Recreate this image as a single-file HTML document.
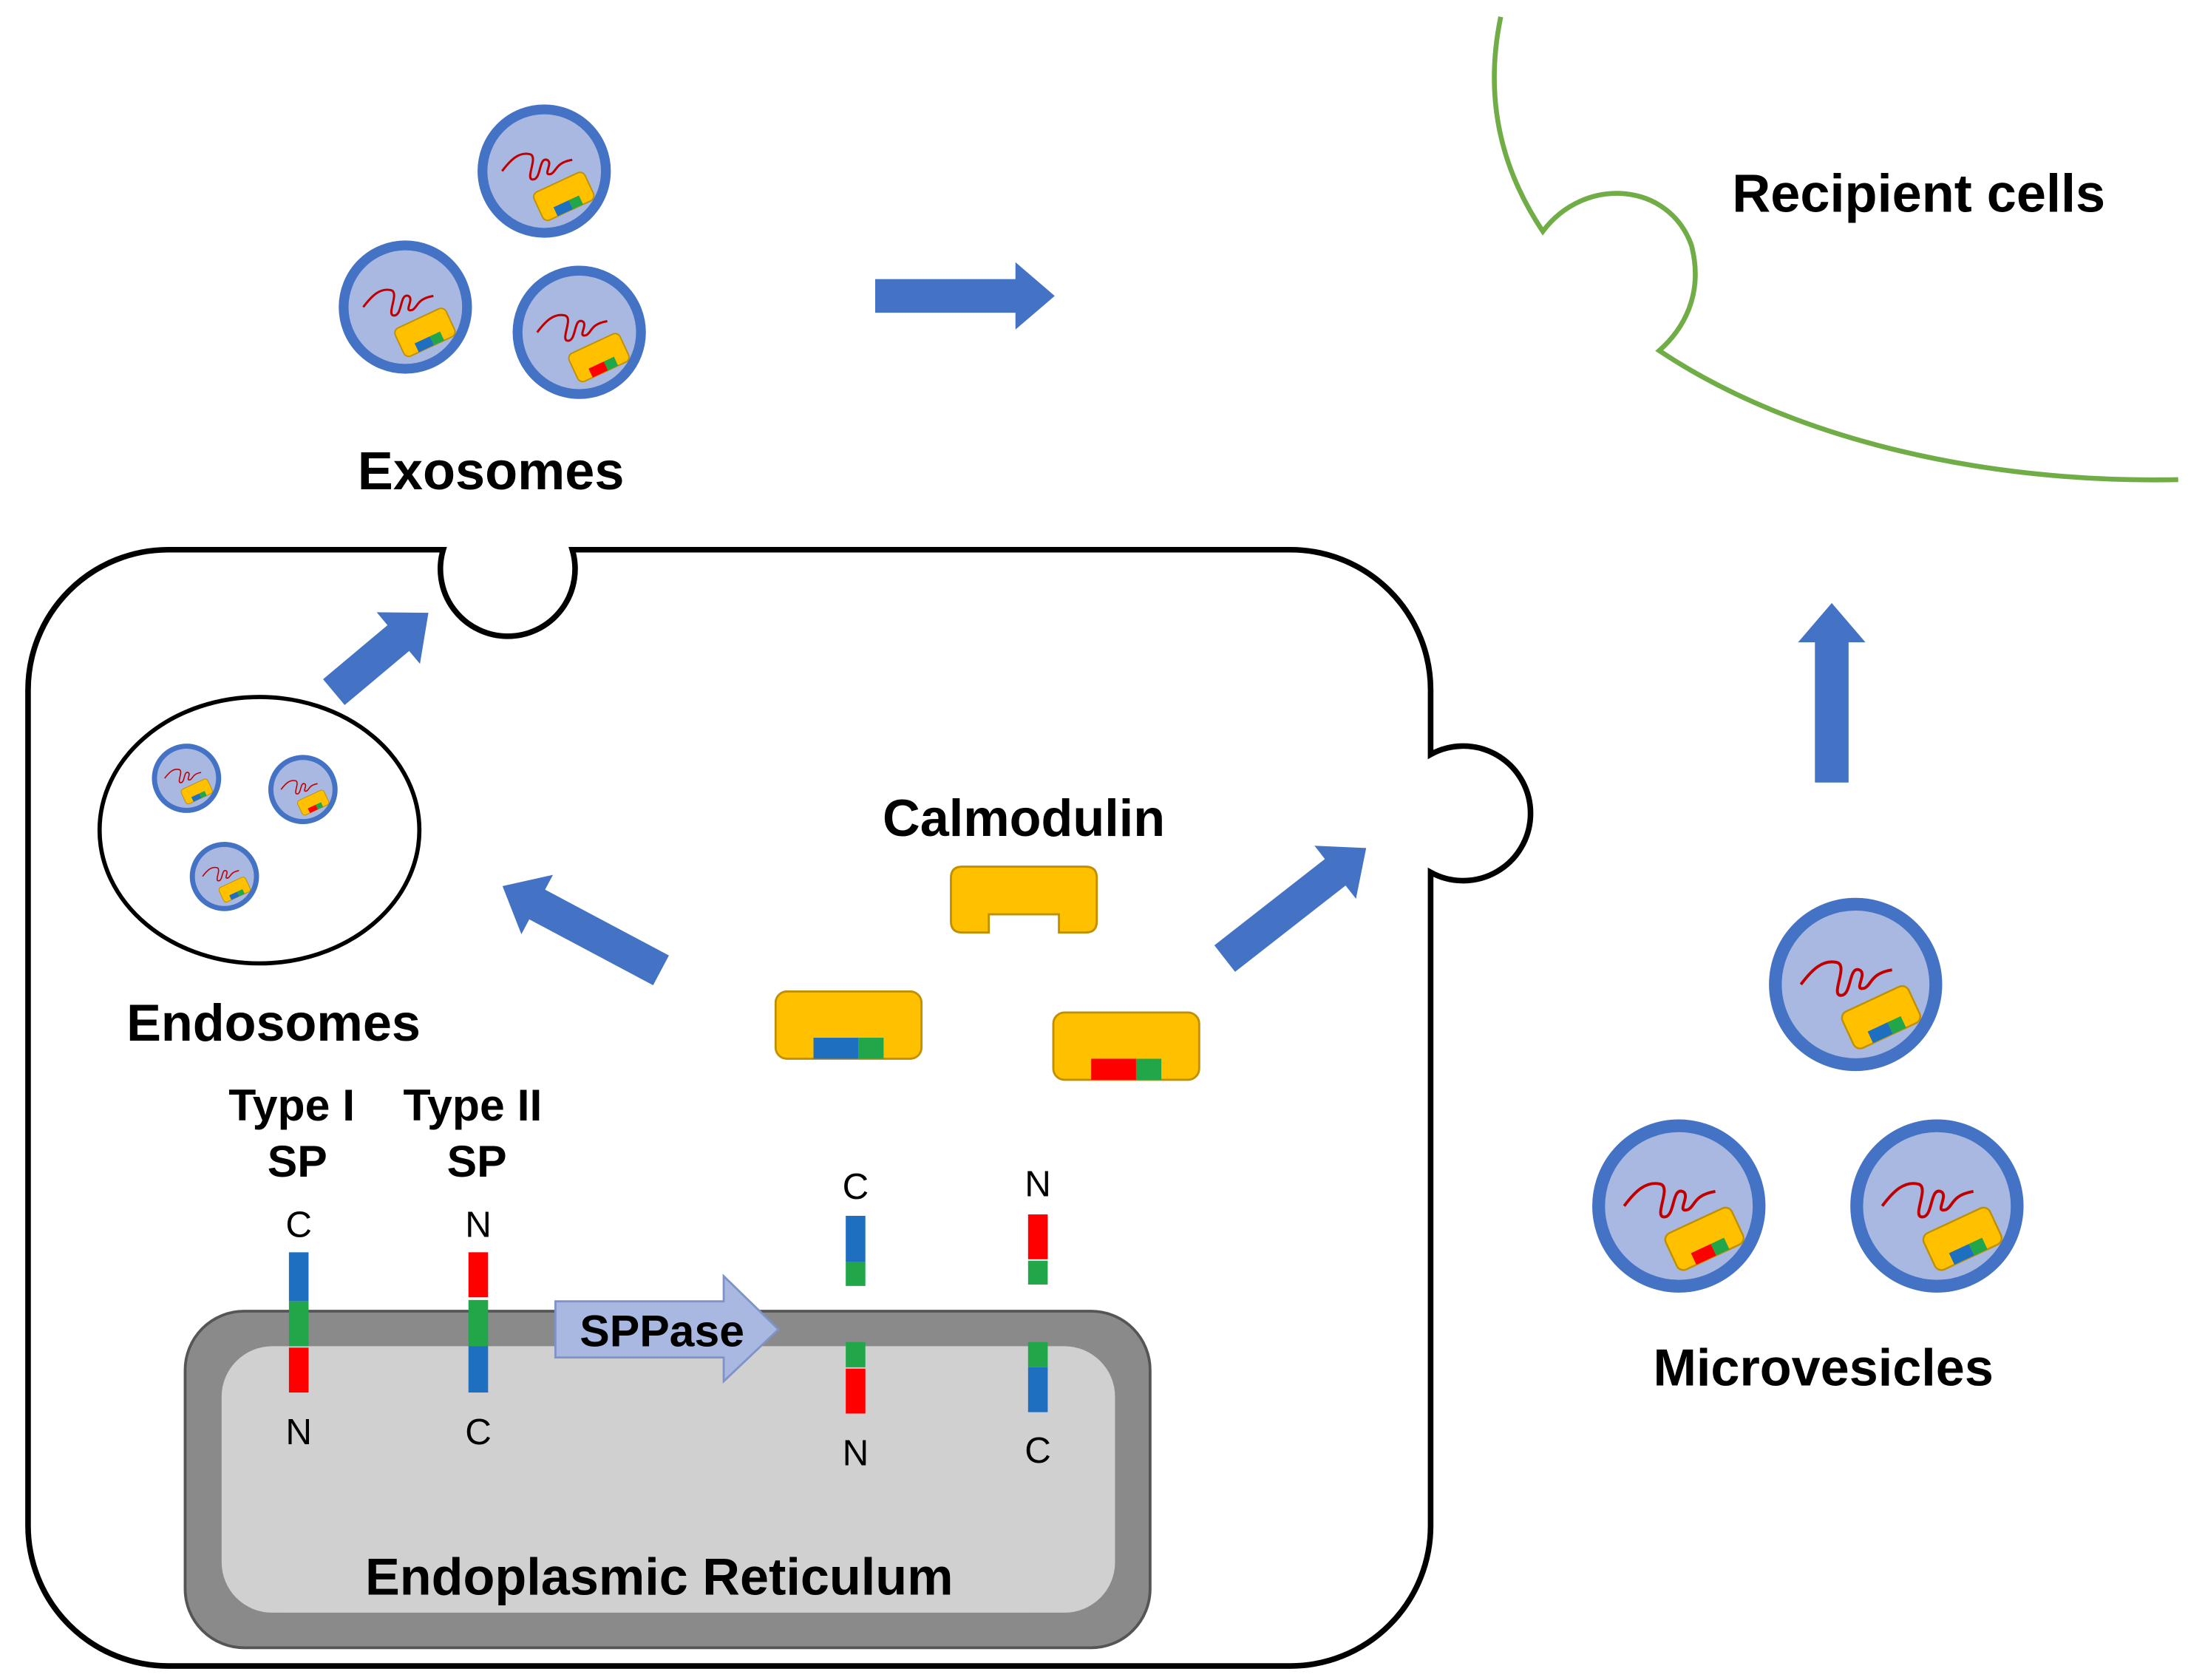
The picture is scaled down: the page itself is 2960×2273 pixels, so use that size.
<!DOCTYPE html>
<html><head><meta charset="utf-8"><style>html,body{margin:0;padding:0;background:#fff}svg{display:block}text{font-family:"Liberation Sans",Arial,sans-serif}</style></head>
<body>
<svg width="2960" height="2273" viewBox="0 0 1560 1198" preserveAspectRatio="none" xmlns="http://www.w3.org/2000/svg">
<defs>
<g id="vb">
<circle r="44" fill="#a9b8e0" stroke="#4472c4" stroke-width="7"/>
<path d="M-30,0 C-24,-8 -18,-14 -10,-12 C-4,-10 -14,6 -8,6 C-2,6 -4,-10 2,-8 C7,-6 -2,4 5,2 C9,0 8,-6 20,-8" fill="none" stroke="#c00000" stroke-width="1.6"/>
<g transform="translate(14,18) rotate(-25)"><rect x="-20" y="-11" width="40" height="22" rx="4" fill="#ffc000" stroke="#c09000" stroke-width="1"/><rect x="-10" y="4" width="12" height="7" fill="#1f6fc0"/><rect x="2" y="4" width="8" height="7" fill="#22a64a"/></g>
</g>
<g id="vr">
<circle r="44" fill="#a9b8e0" stroke="#4472c4" stroke-width="7"/>
<path d="M-30,0 C-24,-8 -18,-14 -10,-12 C-4,-10 -14,6 -8,6 C-2,6 -4,-10 2,-8 C7,-6 -2,4 5,2 C9,0 8,-6 20,-8" fill="none" stroke="#c00000" stroke-width="1.6"/>
<g transform="translate(14,18) rotate(-25)"><rect x="-20" y="-11" width="40" height="22" rx="4" fill="#ffc000" stroke="#c09000" stroke-width="1"/><rect x="-10" y="4" width="12" height="7" fill="#ff0000"/><rect x="2" y="4" width="8" height="7" fill="#22a64a"/></g>
</g>
<polygon id="arr" points="0,-12 -100,-12 -100,12 0,12 0,24 28,0 0,-24" fill="#4472c4"/>
<polygon id="arrs" points="0,-12 -60,-12 -60,12 0,12 0,24 28,0 0,-24" fill="#4472c4"/>
</defs>

<!-- recipient cell -->
<path d="M1070,12 C1058,70 1070,120 1100,165 C1130,125 1190,130 1206,175 C1215,210 1200,235 1183,250 C1280,315 1420,345 1553,342" fill="none" stroke="#70ad47" stroke-width="3.5"/>
<text x="1368" y="151" font-size="38" font-weight="bold" text-anchor="middle">Recipient cells</text>

<!-- exosomes -->
<use href="#vb" transform="translate(388,122)"/>
<use href="#vb" transform="translate(289,219)"/>
<use href="#vr" transform="translate(413,237)"/>
<text x="350" y="349" font-size="38" font-weight="bold" text-anchor="middle">Exosomes</text>
<use href="#arr" transform="translate(724,211)"/>

<!-- main cell -->
<path d="M120,392 L316,392 A48,48 0 1 0 408,392 L920,392 A100,100 0 0 1 1020,492 L1020,538 A48,48 0 1 1 1020,622 L1020,1088 A100,100 0 0 1 920,1188 L120,1188 A100,100 0 0 1 20,1088 L20,492 A100,100 0 0 1 120,392 Z" fill="#fff" stroke="#000" stroke-width="4"/>

<!-- ER -->
<rect x="132" y="935" width="688" height="240" rx="42" fill="#8a8a8a" stroke="#555" stroke-width="2"/>
<rect x="158" y="960" width="637" height="190" rx="36" fill="#d0d0d0"/>
<text x="470" y="1137" font-size="37" font-weight="bold" text-anchor="middle">Endoplasmic Reticulum</text>

<!-- endosome -->
<ellipse cx="185" cy="592" rx="114" ry="95" fill="#fff" stroke="#000" stroke-width="3"/>
<use href="#vb" transform="translate(133,555) scale(0.52)"/>
<use href="#vr" transform="translate(216,563) scale(0.52)"/>
<use href="#vb" transform="translate(160,625) scale(0.52)"/>
<text x="195" y="742" font-size="37" font-weight="bold" text-anchor="middle">Endosomes</text>

<!-- arrows in cell -->
<use href="#arrs" transform="translate(284,455) rotate(-40)"/>
<use href="#arr" transform="translate(383,645) rotate(-152)"/>
<use href="#arr" transform="translate(952,622) rotate(-38)"/>
<use href="#arr" transform="translate(1306,458) rotate(-90)"/>

<!-- calmodulin -->
<text x="730" y="596" font-size="37" font-weight="bold" text-anchor="middle">Calmodulin</text>
<path d="M686,618 L774,618 Q782,618 782,626 L782,657 Q782,665 774,665 L755,665 L755,652 L705,652 L705,665 L686,665 Q678,665 678,657 L678,626 Q678,618 686,618 Z" fill="#ffc000" stroke="#c09000" stroke-width="1.5"/>
<rect x="553" y="707" width="104" height="48" rx="8" fill="#ffc000" stroke="#c09000" stroke-width="1.5"/>
<rect x="580" y="740" width="32" height="15" fill="#1f6fc0"/><rect x="612" y="740" width="18" height="15" fill="#22a64a"/>
<rect x="751" y="722" width="104" height="48" rx="8" fill="#ffc000" stroke="#c09000" stroke-width="1.5"/>
<rect x="778" y="755" width="32" height="15" fill="#ff0000"/><rect x="810" y="755" width="18" height="15" fill="#22a64a"/>

<!-- SP labels -->
<g font-size="32" font-weight="bold" text-anchor="middle">
<text x="208" y="799">Type I</text><text x="212" y="839">SP</text>
<text x="337" y="799">Type II</text><text x="340" y="839">SP</text>
</g>
<g font-size="26" text-anchor="middle">
<text x="213" y="882">C</text><text x="213" y="1030">N</text>
<text x="341" y="882">N</text><text x="341" y="1030">C</text>
<text x="610" y="855">C</text><text x="610" y="1045">N</text>
<text x="740" y="853">N</text><text x="740" y="1043">C</text>
</g>
<rect x="206" y="893" width="14" height="35" fill="#1f6fc0"/><rect x="206" y="928" width="14" height="32" fill="#22a64a"/><rect x="206" y="961" width="14" height="32" fill="#ff0000"/>
<rect x="334" y="893" width="14" height="32" fill="#ff0000"/><rect x="334" y="927" width="14" height="33" fill="#22a64a"/><rect x="334" y="960" width="14" height="33" fill="#1f6fc0"/>
<rect x="603" y="867" width="14" height="33" fill="#1f6fc0"/><rect x="603" y="900" width="14" height="17" fill="#22a64a"/>
<rect x="603" y="957" width="14" height="18" fill="#22a64a"/><rect x="603" y="976" width="14" height="32" fill="#ff0000"/>
<rect x="733" y="866" width="14" height="32" fill="#ff0000"/><rect x="733" y="899" width="14" height="17" fill="#22a64a"/>
<rect x="733" y="957" width="14" height="18" fill="#22a64a"/><rect x="733" y="975" width="14" height="32" fill="#1f6fc0"/>

<!-- SPPase -->
<polygon points="396,928 516,928 516,910 555,948 516,985 516,968 396,968" fill="#a9b8e0" stroke="#7f93c8" stroke-width="1.5"/>
<text x="472" y="960" font-size="32" font-weight="bold" text-anchor="middle">SPPase</text>

<!-- microvesicles -->
<use href="#vb" transform="translate(1323,702) scale(1.3)"/>
<use href="#vr" transform="translate(1197,860) scale(1.3)"/>
<use href="#vb" transform="translate(1381,860) scale(1.3)"/>
<text x="1300" y="988" font-size="37" font-weight="bold" text-anchor="middle">Microvesicles</text>
</svg>
</body></html>
